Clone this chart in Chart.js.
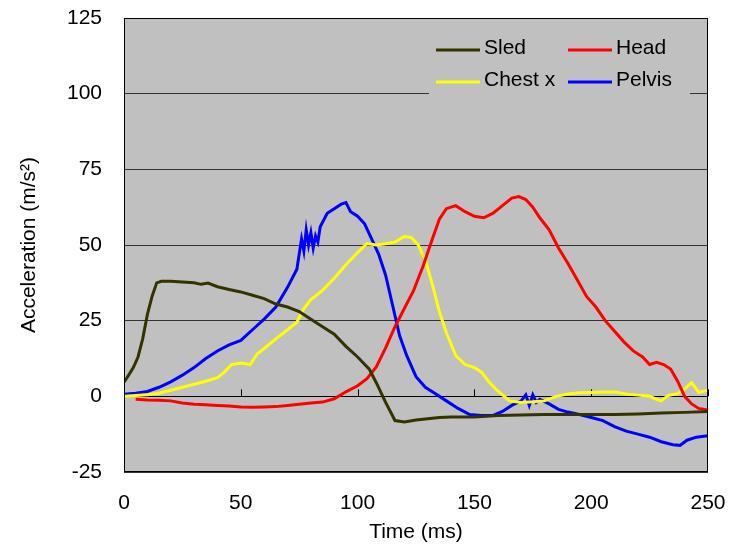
<!DOCTYPE html>
<html>
<head>
<meta charset="utf-8">
<script src="https://cdn.jsdelivr.net/npm/chart.js@4/dist/chart.umd.min.js"></script>
<style>
html,body{margin:0;padding:0;background:#fff;}
canvas{display:block;}
</style>
</head>
<body>
<canvas id="c" width="729" height="554"></canvas>
<script>
// ---- data ----
const xTicks = [0, 50, 100, 150, 200, 250];
const yTicks = [-25, 0, 25, 50, 75, 100, 125];

const sledT = [0,2,4,6,8,10,12,14,16,20,25,30,33,36,40,45,50,55,60,65,70,75,80,85,90,95,100,105,108,112,116,120,125,130,135,140,150,160,170,180,190,200,210,220,230,240,250];
const sledV = [4.7,7,9.5,13,19,27,33,37.5,38,38,37.8,37.5,37,37.4,36.2,35.3,34.5,33.4,32.3,30.5,29.5,28,25.5,23,20.5,16.5,13,9,4.5,-2,-8,-8.5,-7.8,-7.4,-7,-6.8,-6.8,-6.3,-6.2,-6,-6,-6,-6,-5.8,-5.5,-5.3,-5];

const headT = [5,10,15,20,25,30,35,40,45,50,55,60,65,70,75,80,85,90,95,100,104,108,112,116,120,124,128,132,135,138,142,146,150,154,158,162,166,169,172,175,178,182,186,190,194,198,202,206,210,214,218,222,225,228,231,234,237,240,243,246,250];
const headV = [-1,-1.2,-1.3,-1.5,-2.2,-2.6,-2.8,-3,-3.2,-3.5,-3.6,-3.5,-3.4,-3,-2.6,-2.2,-1.9,-0.8,1.5,3.5,5.8,9.7,16,23,29,35,43,52,58.5,62,63,61,59.5,59,60.5,63,65.5,66,65,62.5,59,55,49,44,38.5,33,29.5,25,21.5,18,15,13,10.5,11.2,10.5,9,5,0,-2.5,-4,-4.5];

const chestT = [0,5,10,15,20,25,30,35,40,43,46,50,54,57,60,65,70,74,77,80,85,90,95,100,104,108,112,116,120,123,126,129,132,135,138,142,146,150,153,156,159,162,165,170,175,180,185,190,195,200,205,210,215,220,225,228,230,233,237,240,243,246,250];
const chestV = [0,0.3,0.5,1,2,3,4,5,6.2,8,10.5,11,10.5,14,15.8,19,22,24.5,29,32,35,39,43.5,47.5,50.5,50,50.4,51,52.8,52.5,50,45,37,28,21,13.5,10.5,9.5,8,5,2.5,0.5,-1.5,-2,-1.8,-1.5,0,0.8,1.2,1.3,1.4,1.4,0.8,0.4,0,-1,-1.5,0.3,0.9,2.5,4.5,1.3,2];

const pelvisT = [0,5,10,15,20,25,30,35,40,45,50,55,60,65,70,74,75,76,77,78,79,80,81,82,83,84,87,90,93,95,97,100,103,106,109,112,115,118,121,125,129,133,138,143,148,153,158,162,166,170,172,173.5,175,176.5,178,182,186,190,195,200,205,210,215,220,225,230,235,238,241,245,250];
const pelvisV = [0.7,1,1.6,3,4.8,7,9.5,12.5,15,17,18.5,22,25.5,29.5,36,42,47,52,48,55,50,54,49,53,51,56,60.5,62,63.5,64,61,59.5,57,52,47,40,30,20,13.5,6.5,3,1,-1.5,-4,-6,-6.3,-6.3,-5,-3,-1.5,0.5,-3,0.5,-2,-1,-2.5,-4.3,-5.2,-6,-7,-8,-10,-11.5,-12.5,-13.5,-15,-16,-16.2,-14.5,-13.5,-13];

const seriesNames = ['Sled', 'Head', 'Chest x', 'Pelvis'];
const seriesColors = ['#333300', '#ff0000', '#ffff00', '#0000ff'];

function pts(t, v){ return t.map((x,i)=>({x:x, y:v[i]})); }

const FONT = '"Liberation Sans", Arial, Helvetica, sans-serif';
const FS = 21;

const bgPlugin = {
  id: 'plotBg',
  beforeDraw(chart){
    const a = chart.chartArea, c = chart.ctx;
    c.save();
    c.fillStyle = '#ffffff';
    c.fillRect(0,0,chart.width,chart.height);
    c.fillStyle = '#c0c0c0';
    c.fillRect(a.left, a.top, a.right-a.left, a.bottom-a.top);
    c.restore();
  },
  beforeDatasetsDraw(chart){
    // small tick marks on the zero line
    const c = chart.ctx, xs = chart.scales.x, ys = chart.scales.y;
    const y0 = ys.getPixelForValue(0);
    c.save();
    c.strokeStyle = '#000';
    c.lineWidth = 1;
    xTicks.forEach(v=>{
      const px = Math.round(xs.getPixelForValue(v)) + 0.5;
      c.beginPath(); c.moveTo(px, y0); c.lineTo(px, y0-7); c.stroke();
    });
    c.restore();
  },
  afterDatasetsDraw(chart){
    const a = chart.chartArea, c = chart.ctx;
    // legend
    c.save();
    c.fillStyle = '#c0c0c0';
    c.fillRect(429, 34, 261, 63);
    c.font = FS + 'px ' + FONT;
    c.textBaseline = 'middle';
    c.fillStyle = '#000';
    const cols = [436, 568], rows = [50, 82];
    chart.data.datasets.forEach((ds, i)=>{
      const cx = cols[i%2], cy = rows[Math.floor(i/2)];
      c.strokeStyle = ds.borderColor;
      c.lineWidth = 3;
      c.beginPath(); c.moveTo(cx, cy); c.lineTo(cx+44, cy); c.stroke();
      c.fillText(ds.label, cx+48, cy-2);
    });
    // plot border
    c.strokeStyle = '#000';
    c.lineWidth = 1;
    c.strokeRect(Math.round(a.left)+0.5, Math.round(a.top)+0.5, Math.round(a.right-a.left)-1, Math.round(a.bottom-a.top)-1);
    c.restore();
  }
};

const order = [0,1,2,3];
const allT = [sledT, headT, chestT, pelvisT];
const allV = [sledV, headV, chestV, pelvisV];

new Chart(document.getElementById('c'), {
  type: 'line',
  data: {
    datasets: order.map(i=>({
      label: seriesNames[i],
      data: pts(allT[i], allV[i]),
      borderColor: seriesColors[i],
      backgroundColor: seriesColors[i],
      borderWidth: 3,
      pointRadius: 0,
      tension: 0,
      fill: false
    }))
  },
  options: {
    responsive: false,
    devicePixelRatio: 1,
    animation: false,
    layout: { padding: { top: 18, right: 21, left: 0, bottom: 0 } },
    plugins: { legend: { display: false }, tooltip: { enabled: false } },
    scales: {
      x: {
        type: 'linear',
        min: 0, max: 250,
        afterBuildTicks(s){ s.ticks = xTicks.map(v=>({value:v})); },
        afterFit(s){ s.height = 82; s.paddingLeft = 0; s.paddingRight = 0; },
        grid: { display: false, drawTicks: false },
        border: { display: false },
        ticks: { color: '#000', font: { family: FONT, size: FS }, padding: 19, maxRotation: 0 },
        title: { display: true, text: 'Time (ms)', color: '#000', font: { family: FONT, size: FS }, padding: { top: 0, bottom: 9 } }
      },
      y: {
        min: -25, max: 125,
        afterBuildTicks(s){ s.ticks = yTicks.map(v=>({value:v})); },
        afterFit(s){ s.width = 124; s.paddingTop = 0; s.paddingBottom = 0; },
        grid: {
          drawTicks: false,
          color: ctx => (ctx.tick && ctx.tick.value === 0) ? '#000' : '#333333',
          lineWidth: 1
        },
        border: { display: false },
        ticks: { color: '#000', font: { family: FONT, size: FS }, padding: 22 },
        title: { display: true, text: 'Acceleration (m/s²)', color: '#000', font: { family: FONT, size: FS }, padding: { top: 17, bottom: 0 } }
      }
    }
  },
  plugins: [bgPlugin]
});
</script>
</body>
</html>
